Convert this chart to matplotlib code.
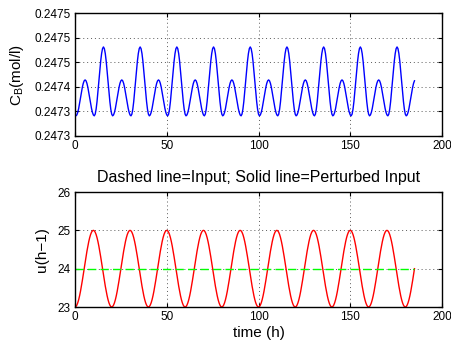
import numpy as np
import matplotlib
matplotlib.use("Agg")
import matplotlib.pyplot as plt

plt.rcParams['font.family'] = ['Liberation Sans', 'DejaVu Sans']
plt.rcParams['mathtext.fontset'] = 'custom'
plt.rcParams['mathtext.rm'] = 'Liberation Sans'
plt.rcParams['mathtext.it'] = 'Liberation Sans:italic'

# sampling grid of the simulation (hours)
time_h = np.arange(0, 185.5, 0.5)

# concentration C_B (mol/l)
cb_mol_l = [
    0.2473444,
    0.2473410, 0.2473428, 0.2473480, 0.2473560, 0.2473662, 0.2473775, 0.2473888, 0.2473990, 0.2474070, 0.2474122,
    0.2474140, 0.2474122, 0.2474070, 0.2473990, 0.2473888, 0.2473775, 0.2473662, 0.2473560, 0.2473480, 0.2473428,
    0.2473410, 0.2473444, 0.2473544, 0.2473699, 0.2473894, 0.2474110, 0.2474326, 0.2474521, 0.2474676, 0.2474776,
    0.2474810, 0.2474776, 0.2474676, 0.2474521, 0.2474326, 0.2474110, 0.2473894, 0.2473699, 0.2473544, 0.2473444,
    0.2473410, 0.2473428, 0.2473480, 0.2473560, 0.2473662, 0.2473775, 0.2473888, 0.2473990, 0.2474070, 0.2474122,
    0.2474140, 0.2474122, 0.2474070, 0.2473990, 0.2473888, 0.2473775, 0.2473662, 0.2473560, 0.2473480, 0.2473428,
    0.2473410, 0.2473444, 0.2473544, 0.2473699, 0.2473894, 0.2474110, 0.2474326, 0.2474521, 0.2474676, 0.2474776,
    0.2474810, 0.2474776, 0.2474676, 0.2474521, 0.2474326, 0.2474110, 0.2473894, 0.2473699, 0.2473544, 0.2473444,
    0.2473410, 0.2473428, 0.2473480, 0.2473560, 0.2473662, 0.2473775, 0.2473888, 0.2473990, 0.2474070, 0.2474122,
    0.2474140, 0.2474122, 0.2474070, 0.2473990, 0.2473888, 0.2473775, 0.2473662, 0.2473560, 0.2473480, 0.2473428,
    0.2473410, 0.2473444, 0.2473544, 0.2473699, 0.2473894, 0.2474110, 0.2474326, 0.2474521, 0.2474676, 0.2474776,
    0.2474810, 0.2474776, 0.2474676, 0.2474521, 0.2474326, 0.2474110, 0.2473894, 0.2473699, 0.2473544, 0.2473444,
    0.2473410, 0.2473428, 0.2473480, 0.2473560, 0.2473662, 0.2473775, 0.2473888, 0.2473990, 0.2474070, 0.2474122,
    0.2474140, 0.2474122, 0.2474070, 0.2473990, 0.2473888, 0.2473775, 0.2473662, 0.2473560, 0.2473480, 0.2473428,
    0.2473410, 0.2473444, 0.2473544, 0.2473699, 0.2473894, 0.2474110, 0.2474326, 0.2474521, 0.2474676, 0.2474776,
    0.2474810, 0.2474776, 0.2474676, 0.2474521, 0.2474326, 0.2474110, 0.2473894, 0.2473699, 0.2473544, 0.2473444,
    0.2473410, 0.2473428, 0.2473480, 0.2473560, 0.2473662, 0.2473775, 0.2473888, 0.2473990, 0.2474070, 0.2474122,
    0.2474140, 0.2474122, 0.2474070, 0.2473990, 0.2473888, 0.2473775, 0.2473662, 0.2473560, 0.2473480, 0.2473428,
    0.2473410, 0.2473444, 0.2473544, 0.2473699, 0.2473894, 0.2474110, 0.2474326, 0.2474521, 0.2474676, 0.2474776,
    0.2474810, 0.2474776, 0.2474676, 0.2474521, 0.2474326, 0.2474110, 0.2473894, 0.2473699, 0.2473544, 0.2473444,
    0.2473410, 0.2473428, 0.2473480, 0.2473560, 0.2473662, 0.2473775, 0.2473888, 0.2473990, 0.2474070, 0.2474122,
    0.2474140, 0.2474122, 0.2474070, 0.2473990, 0.2473888, 0.2473775, 0.2473662, 0.2473560, 0.2473480, 0.2473428,
    0.2473410, 0.2473444, 0.2473544, 0.2473699, 0.2473894, 0.2474110, 0.2474326, 0.2474521, 0.2474676, 0.2474776,
    0.2474810, 0.2474776, 0.2474676, 0.2474521, 0.2474326, 0.2474110, 0.2473894, 0.2473699, 0.2473544, 0.2473444,
    0.2473410, 0.2473428, 0.2473480, 0.2473560, 0.2473662, 0.2473775, 0.2473888, 0.2473990, 0.2474070, 0.2474122,
    0.2474140, 0.2474122, 0.2474070, 0.2473990, 0.2473888, 0.2473775, 0.2473662, 0.2473560, 0.2473480, 0.2473428,
    0.2473410, 0.2473444, 0.2473544, 0.2473699, 0.2473894, 0.2474110, 0.2474326, 0.2474521, 0.2474676, 0.2474776,
    0.2474810, 0.2474776, 0.2474676, 0.2474521, 0.2474326, 0.2474110, 0.2473894, 0.2473699, 0.2473544, 0.2473444,
    0.2473410, 0.2473428, 0.2473480, 0.2473560, 0.2473662, 0.2473775, 0.2473888, 0.2473990, 0.2474070, 0.2474122,
    0.2474140, 0.2474122, 0.2474070, 0.2473990, 0.2473888, 0.2473775, 0.2473662, 0.2473560, 0.2473480, 0.2473428,
    0.2473410, 0.2473444, 0.2473544, 0.2473699, 0.2473894, 0.2474110, 0.2474326, 0.2474521, 0.2474676, 0.2474776,
    0.2474810, 0.2474776, 0.2474676, 0.2474521, 0.2474326, 0.2474110, 0.2473894, 0.2473699, 0.2473544, 0.2473444,
    0.2473410, 0.2473428, 0.2473480, 0.2473560, 0.2473662, 0.2473775, 0.2473888, 0.2473990, 0.2474070, 0.2474122,
    0.2474140, 0.2474122, 0.2474070, 0.2473990, 0.2473888, 0.2473775, 0.2473662, 0.2473560, 0.2473480, 0.2473428,
    0.2473410, 0.2473444, 0.2473544, 0.2473699, 0.2473894, 0.2474110, 0.2474326, 0.2474521, 0.2474676, 0.2474776,
    0.2474810, 0.2474776, 0.2474676, 0.2474521, 0.2474326, 0.2474110, 0.2473894, 0.2473699, 0.2473544, 0.2473444,
    0.2473410, 0.2473428, 0.2473480, 0.2473560, 0.2473662, 0.2473775, 0.2473888, 0.2473990, 0.2474070, 0.2474122,
]

# perturbed input u (h^-1)
u_perturbed = [
    23.000, 23.012, 23.049, 23.109, 23.191, 23.293, 23.412, 23.546, 23.691, 23.844,
    24.000, 24.156, 24.309, 24.454, 24.588, 24.707, 24.809, 24.891, 24.951, 24.988,
    25.000, 24.988, 24.951, 24.891, 24.809, 24.707, 24.588, 24.454, 24.309, 24.156,
    24.000, 23.844, 23.691, 23.546, 23.412, 23.293, 23.191, 23.109, 23.049, 23.012,
    23.000, 23.012, 23.049, 23.109, 23.191, 23.293, 23.412, 23.546, 23.691, 23.844,
    24.000, 24.156, 24.309, 24.454, 24.588, 24.707, 24.809, 24.891, 24.951, 24.988,
    25.000, 24.988, 24.951, 24.891, 24.809, 24.707, 24.588, 24.454, 24.309, 24.156,
    24.000, 23.844, 23.691, 23.546, 23.412, 23.293, 23.191, 23.109, 23.049, 23.012,
    23.000, 23.012, 23.049, 23.109, 23.191, 23.293, 23.412, 23.546, 23.691, 23.844,
    24.000, 24.156, 24.309, 24.454, 24.588, 24.707, 24.809, 24.891, 24.951, 24.988,
    25.000, 24.988, 24.951, 24.891, 24.809, 24.707, 24.588, 24.454, 24.309, 24.156,
    24.000, 23.844, 23.691, 23.546, 23.412, 23.293, 23.191, 23.109, 23.049, 23.012,
    23.000, 23.012, 23.049, 23.109, 23.191, 23.293, 23.412, 23.546, 23.691, 23.844,
    24.000, 24.156, 24.309, 24.454, 24.588, 24.707, 24.809, 24.891, 24.951, 24.988,
    25.000, 24.988, 24.951, 24.891, 24.809, 24.707, 24.588, 24.454, 24.309, 24.156,
    24.000, 23.844, 23.691, 23.546, 23.412, 23.293, 23.191, 23.109, 23.049, 23.012,
    23.000, 23.012, 23.049, 23.109, 23.191, 23.293, 23.412, 23.546, 23.691, 23.844,
    24.000, 24.156, 24.309, 24.454, 24.588, 24.707, 24.809, 24.891, 24.951, 24.988,
    25.000, 24.988, 24.951, 24.891, 24.809, 24.707, 24.588, 24.454, 24.309, 24.156,
    24.000, 23.844, 23.691, 23.546, 23.412, 23.293, 23.191, 23.109, 23.049, 23.012,
    23.000, 23.012, 23.049, 23.109, 23.191, 23.293, 23.412, 23.546, 23.691, 23.844,
    24.000, 24.156, 24.309, 24.454, 24.588, 24.707, 24.809, 24.891, 24.951, 24.988,
    25.000, 24.988, 24.951, 24.891, 24.809, 24.707, 24.588, 24.454, 24.309, 24.156,
    24.000, 23.844, 23.691, 23.546, 23.412, 23.293, 23.191, 23.109, 23.049, 23.012,
    23.000, 23.012, 23.049, 23.109, 23.191, 23.293, 23.412, 23.546, 23.691, 23.844,
    24.000, 24.156, 24.309, 24.454, 24.588, 24.707, 24.809, 24.891, 24.951, 24.988,
    25.000, 24.988, 24.951, 24.891, 24.809, 24.707, 24.588, 24.454, 24.309, 24.156,
    24.000, 23.844, 23.691, 23.546, 23.412, 23.293, 23.191, 23.109, 23.049, 23.012,
    23.000, 23.012, 23.049, 23.109, 23.191, 23.293, 23.412, 23.546, 23.691, 23.844,
    24.000, 24.156, 24.309, 24.454, 24.588, 24.707, 24.809, 24.891, 24.951, 24.988,
    25.000, 24.988, 24.951, 24.891, 24.809, 24.707, 24.588, 24.454, 24.309, 24.156,
    24.000, 23.844, 23.691, 23.546, 23.412, 23.293, 23.191, 23.109, 23.049, 23.012,
    23.000, 23.012, 23.049, 23.109, 23.191, 23.293, 23.412, 23.546, 23.691, 23.844,
    24.000, 24.156, 24.309, 24.454, 24.588, 24.707, 24.809, 24.891, 24.951, 24.988,
    25.000, 24.988, 24.951, 24.891, 24.809, 24.707, 24.588, 24.454, 24.309, 24.156,
    24.000, 23.844, 23.691, 23.546, 23.412, 23.293, 23.191, 23.109, 23.049, 23.012,
    23.000, 23.012, 23.049, 23.109, 23.191, 23.293, 23.412, 23.546, 23.691, 23.844,
    24.000,
]

# nominal input (dashed line)
u_nominal_t = [0, 185]
u_nominal = [24, 24]

# axis ticks and labels
x_ticks = [0, 50, 100, 150, 200]
cb_ticks = [0.24730, 0.24735, 0.24740, 0.24745, 0.24750, 0.24755]
cb_tick_labels = ['0.2473', '0.2473', '0.2474', '0.2475', '0.2475', '0.2475']
u_ticks = [23, 24, 25, 26]

W, H = 451, 342
fig = plt.figure(figsize=(W / 100, H / 100), dpi=100)

ax1 = fig.add_axes([75 / W, 1 - 136 / H, 367 / W, 123 / H])
ax2 = fig.add_axes([75 / W, 1 - 307 / H, 367 / W, 115 / H])

tick_fs = 8.5
label_fs = 11

ax1.plot(time_h, cb_mol_l, color=(0, 0, 1), lw=1.0)
ax1.set_xlim(0, 200)
ax1.set_ylim(cb_ticks[0], cb_ticks[-1])
ax1.set_xticks(x_ticks)
ax1.set_yticks(cb_ticks)
ax1.set_yticklabels(cb_tick_labels)
ax1.set_ylabel(r'C$_\mathrm{B}$(mol/l)', fontsize=label_fs, labelpad=6)

ax2.plot(time_h, u_perturbed, color=(1, 0, 0), lw=1.0)
ax2.plot(u_nominal_t, u_nominal, color=(0, 1, 0), lw=1.0, linestyle=(0, (6, 3)))
ax2.set_xlim(0, 200)
ax2.set_ylim(23, 26)
ax2.set_xticks(x_ticks)
ax2.set_yticks(u_ticks)
ax2.set_ylabel('u(h\u22121)', fontsize=label_fs, labelpad=6)
ax2.set_xlabel('time (h)', fontsize=label_fs, labelpad=2)
ax2.set_title('Dashed line=Input; Solid line=Perturbed Input', fontsize=11.5, pad=7)

for ax in (ax1, ax2):
    ax.grid(True, linestyle=(0, (1, 3)), color='0.35', lw=0.7)
    ax.tick_params(direction='in', length=3, width=0.8, labelsize=tick_fs, pad=3,
                   top=True, right=True)
    for s in ax.spines.values():
        s.set_linewidth(1.0)

fig.savefig('out.png', dpi=100)
